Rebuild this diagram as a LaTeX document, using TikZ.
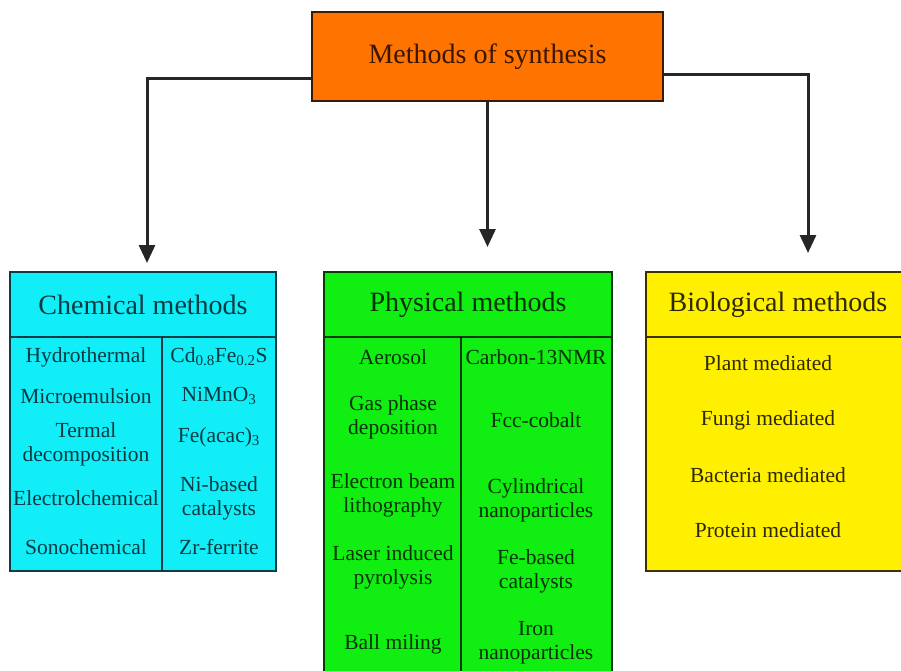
\documentclass[tikz,border=0pt]{standalone}
\usepackage{fontspec}
\setmainfont{Liberation Serif}
\usetikzlibrary{arrows.meta}
\usetikzlibrary{positioning}

\definecolor{topfill}{HTML}{FF7400}
\definecolor{topline}{HTML}{3A1A00}
\definecolor{toptext}{HTML}{3A1600}
\definecolor{chemfill}{HTML}{11EEF8}
\definecolor{chemline}{HTML}{0E3C44}
\definecolor{chemtext}{HTML}{073A42}
\definecolor{physfill}{HTML}{11EE11}
\definecolor{physline}{HTML}{0A3A0A}
\definecolor{phystext}{HTML}{063006}
\definecolor{biofill}{HTML}{FFF000}
\definecolor{bioline}{HTML}{3A3300}
\definecolor{biotext}{HTML}{2E2800}

\tikzset{
  box/.style={shape=rectangle,draw,line width=2pt,outer sep=0pt,inner sep=0pt},
  headfont/.style={font=\fontsize{28}{32}\selectfont},
  item/.style={align=center,inner sep=1pt,font=\fontsize{21.5}{24}\selectfont},
  conn/.style={draw=black!85,line width=3pt,-{Triangle[length=18pt,width=16pt]}},
}

\begin{document}
\begin{tikzpicture}[x=1pt,y=-1pt]
    \useasboundingbox (0,0) rectangle (901,670);
    \clip (0,0) rectangle (901,670);
    % top box
    \node[box,headfont,fill=topfill,draw=topline,text=toptext,minimum width=351pt,minimum height=89pt] (top) at (487.5,56.5) {Methods of synthesis};
    % category boxes
    \node[box,headfont,fill=chemfill,draw=chemline,text=chemtext,minimum width=266pt,minimum height=65pt] (chemhead) at (143,304.5) {Chemical methods};
    \node[box,fill=chemfill,draw=chemline,minimum width=266pt,minimum height=234pt,below=0pt of chemhead] (chembody) {};
    \node[box,headfont,fill=physfill,draw=physline,text=phystext,minimum width=288pt,minimum height=65pt] (physhead) at (468,304.5) {Physical methods};
    \node[box,fill=physfill,draw=physline,minimum width=288pt,minimum height=380pt,below=0pt of physhead] (physbody) {};
    \node[box,headfont,fill=biofill,draw=bioline,text=biotext,minimum width=264pt,minimum height=65pt] (biohead) at (778,304.5) {Biological methods};
    \node[box,fill=biofill,draw=bioline,minimum width=264pt,minimum height=234pt,below=0pt of biohead] (biobody) {};
    \draw[chemline,line width=2pt] (chembody.north -| 162,0) -- (chembody.south -| 162,0);
    \draw[physline,line width=2pt] (physbody.north -| 461,0) -- (physbody.south -| 461,0);
    % arrow ends
    \coordinate (chemtip) at (147,263);
    \coordinate (phystip) at (487.5,247);
    \coordinate (biotip) at (808,253);
    \draw[conn] ([yshift=-21.5pt]top.west) -| (chemtip);
    \draw[conn] (top.south) -- (phystip);
    \draw[conn] ([yshift=-17.5pt]top.east) -| (biotip);
    % chemical items
    \foreach \t/\y [count=\i] in {Hydrothermal/357,Microemulsion/396,{Termal\\decomposition}/444,Electrolchemical/498,Sonochemical/547}
        \node[item,text=chemtext] (chemL\i) at (86,\y) {\t};
    \foreach \t/\y [count=\i] in {{Cd\textsubscript{0.8}Fe\textsubscript{0.2}S}/357,{NiMnO\textsubscript{3}}/396,{Fe(acac)\textsubscript{3}}/437,{Ni-based\\catalysts}/498,Zr-ferrite/547}
        \node[item,text=chemtext] (chemR\i) at (219,\y) {\t};
    % physical items
    \foreach \t/\y [count=\i] in {Aerosol/357,{Gas phase\\deposition}/417,{Electron beam\\lithography}/495,{Laser induced\\pyrolysis}/567,Ball miling/644}
        \node[item,text=phystext] (physL\i) at (393,\y) {\t};
    \foreach \t/\y [count=\i] in {Carbon-13NMR/357,Fcc-cobalt/420,{Cylindrical\\nanoparticles}/500,{Fe-based\\catalysts}/571,{Iron\\nanoparticles}/643}
        \node[item,text=phystext] (physR\i) at (536,\y) {\t};
    % biological items
    \foreach \t/\y [count=\i] in {Plant mediated/363,Fungi mediated/420,Bacteria mediated/475,Protein mediated/530}
        \node[item,text=biotext] (bio\i) at (768,\y) {\t};
\end{tikzpicture}
\end{document}
